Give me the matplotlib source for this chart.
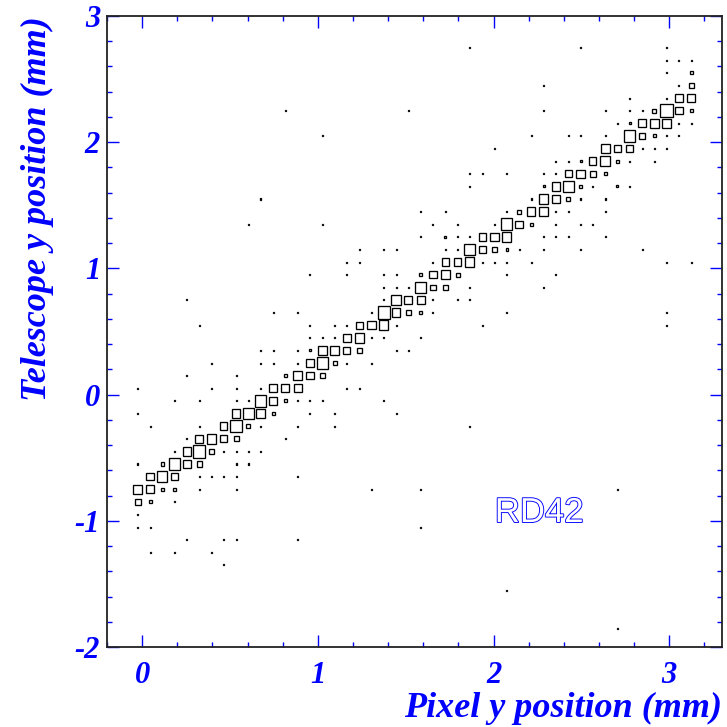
import numpy as np
import matplotlib
matplotlib.use("Agg")
import matplotlib.pyplot as plt
from matplotlib.patches import Rectangle
from matplotlib.ticker import MultipleLocator, FuncFormatter
import matplotlib.patheffects as pe

plt.rcParams['axes.unicode_minus'] = False

# histogram binning (mm)
x_lo, x_hi, nx = -0.2, 3.3, 50
y_lo, y_hi, ny = -2.0, 3.0, 50

# cell contents, one entry per telescope-y row
y_rows = [-1.85, -1.55, -1.35, -1.25, -1.15, -1.05, -0.95, -0.85, -0.75, -0.65,
          -0.55, -0.45, -0.35, -0.25, -0.15, -0.05, 0.05, 0.15, 0.25, 0.35,
          0.45, 0.55, 0.65, 0.75, 0.85, 0.95, 1.05, 1.15, 1.25, 1.35,
          1.45, 1.55, 1.65, 1.75, 1.85, 1.95, 2.05, 2.15, 2.25, 2.35,
          2.45, 2.55, 2.65, 2.75]

x_rows = [
    [2.705],
    [2.075],
    [0.465],
    [0.045, 0.185, 0.395],
    [0.255, 0.465, 0.535, 0.885],
    [-0.025, 0.045, 1.585],
    [-0.025],
    [-0.025, 0.045, 0.185],
    [-0.025, 0.045, 0.115, 0.185, 0.325, 0.535, 1.305, 1.585, 2.705],
    [0.045, 0.115, 0.185, 0.325, 0.395, 0.465, 0.535, 0.885],
    [-0.025, 0.115, 0.185, 0.255, 0.325, 0.535, 0.605],
    [0.185, 0.255, 0.325, 0.395, 0.465, 0.535, 0.605, 0.675],
    [0.255, 0.325, 0.395, 0.465, 0.535, 0.815],
    [0.045, 0.325, 0.465, 0.535, 0.605, 0.675, 0.885, 1.095, 1.865],
    [-0.025, 0.535, 0.605, 0.675, 0.745, 0.955, 1.095, 1.445],
    [0.185, 0.325, 0.535, 0.605, 0.675, 0.745, 0.815, 0.885, 0.955, 1.025, 1.375],
    [-0.025, 0.395, 0.535, 0.675, 0.745, 0.815, 0.885, 1.165, 1.235],
    [0.255, 0.535, 0.815, 0.885, 0.955, 1.025],
    [0.395, 0.675, 0.745, 0.885, 0.955, 1.025, 1.095, 1.165, 1.305],
    [0.675, 0.745, 0.885, 0.955, 1.025, 1.095, 1.165, 1.235, 1.445, 1.515],
    [0.955, 1.025, 1.095, 1.165, 1.235, 1.305, 1.375, 1.585],
    [0.325, 0.955, 1.095, 1.165, 1.235, 1.305, 1.375, 1.445, 1.935, 2.985],
    [0.745, 0.885, 1.305, 1.375, 1.445, 1.515, 1.585, 1.655, 2.075, 2.985],
    [0.255, 1.375, 1.445, 1.515, 1.585, 1.655, 1.795, 1.865],
    [1.375, 1.445, 1.515, 1.585, 1.655, 1.725, 1.865, 2.285],
    [0.955, 1.165, 1.375, 1.445, 1.585, 1.655, 1.725, 1.795, 2.075, 2.355],
    [1.165, 1.235, 1.655, 1.725, 1.795, 1.865, 1.935, 2.005, 2.075, 2.215, 2.985, 3.125],
    [1.235, 1.375, 1.445, 1.725, 1.795, 1.865, 1.935, 2.005, 2.075, 2.145, 2.285, 2.495, 2.845],
    [1.585, 1.725, 1.795, 1.865, 1.935, 2.005, 2.075, 2.285, 2.355, 2.425, 2.635],
    [0.605, 1.025, 1.655, 1.795, 2.005, 2.075, 2.145, 2.215, 2.355, 2.495, 2.565],
    [1.585, 1.725, 2.075, 2.145, 2.215, 2.285, 2.355, 2.425, 2.635],
    [0.675, 2.215, 2.285, 2.355, 2.425, 2.495, 2.635],
    [1.865, 2.285, 2.355, 2.425, 2.495, 2.565, 2.705, 2.775],
    [1.865, 1.935, 2.075, 2.285, 2.355, 2.425, 2.495, 2.565, 2.635],
    [2.355, 2.425, 2.495, 2.565, 2.635, 2.705, 2.775, 2.915],
    [2.005, 2.635, 2.705, 2.775, 2.845, 2.915, 2.985],
    [1.025, 2.215, 2.425, 2.495, 2.635, 2.775, 2.845, 2.915, 2.985, 3.055],
    [2.705, 2.775, 2.845, 2.915, 2.985, 3.055, 3.125],
    [0.815, 1.515, 2.285, 2.635, 2.775, 2.845, 2.915, 2.985, 3.055, 3.125],
    [2.775, 2.985, 3.055, 3.125],
    [2.285, 3.055, 3.125],
    [2.985, 3.125],
    [2.985, 3.055, 3.125],
    [1.865, 2.495, 2.985],
]

n_rows = [
    [1],
    [1],
    [1],
    [1, 1, 1],
    [1, 1, 1, 1],
    [1, 1, 1],
    [1],
    [6, 3, 1],
    [9, 8, 3, 3, 1, 1, 1, 1, 1],
    [7, 10, 7, 1, 1, 1, 1, 1],
    [1, 3, 11, 7, 5, 1, 1],
    [1, 8, 12, 5, 1, 1, 1, 1],
    [1, 8, 9, 7, 5, 1],
    [1, 1, 7, 12, 4, 1, 1, 1, 1],
    [1, 8, 10, 9, 3, 1, 1, 1],
    [1, 1, 1, 1, 11, 8, 3, 1, 1, 1, 1],
    [1, 1, 1, 1, 8, 8, 8, 1, 1],
    [1, 1, 3, 9, 7, 5],
    [1, 1, 1, 1, 7, 11, 4, 1, 1],
    [1, 1, 1, 2, 9, 8, 7, 5, 1, 1],
    [1, 1, 1, 8, 9, 1, 1, 1],
    [1, 1, 1, 1, 7, 8, 9, 1, 1, 1],
    [1, 1, 1, 12, 8, 5, 3, 1, 1, 1],
    [1, 1, 9, 8, 8, 1, 1, 1],
    [1, 1, 1, 11, 5, 5, 1, 1],
    [1, 1, 1, 1, 3, 7, 9, 4, 1, 1],
    [1, 1, 1, 7, 7, 9, 1, 1, 1, 1, 1, 1],
    [1, 1, 1, 1, 1, 11, 7, 4, 2, 1, 1, 1, 1],
    [1, 2, 1, 1, 7, 8, 9, 1, 1, 1, 1],
    [1, 1, 1, 1, 1, 11, 7, 3, 1, 1, 1],
    [1, 1, 1, 4, 8, 9, 1, 1, 1],
    [1, 1, 9, 7, 4, 1, 1],
    [1, 2, 8, 11, 3, 1, 2, 1],
    [1, 1, 1, 1, 1, 7, 8, 6, 3],
    [1, 1, 2, 7, 10, 3, 1, 1],
    [1, 9, 6, 7, 1, 1, 1],
    [1, 1, 1, 1, 1, 11, 5, 3, 1, 1],
    [1, 2, 8, 9, 9, 1, 1],
    [1, 1, 1, 1, 1, 1, 4, 12, 7, 3],
    [1, 1, 7, 8],
    [1, 1, 5],
    [1, 3],
    [1, 1, 1],
    [1, 1, 1],
]

xs = np.concatenate([np.array(r, float) for r in x_rows])
ys = np.concatenate([np.full(len(r), y) for y, r in zip(y_rows, x_rows)])
ns = np.concatenate([np.array(r, float) for r in n_rows])

x_edges = np.linspace(x_lo, x_hi, nx + 1)
y_edges = np.linspace(y_lo, y_hi, ny + 1)
H, _, _ = np.histogram2d(xs, ys, bins=[x_edges, y_edges], weights=ns)

blue = '#0000ff'
tfont = dict(family='Liberation Serif', weight='bold', style='italic', color=blue)

fig = plt.figure(figsize=(7.27, 7.27), dpi=100)
ax = fig.add_axes([107 / 727, 1 - 647 / 727, 615 / 727, 631 / 727])
ax.set_xlim(x_lo, x_hi)
ax.set_ylim(y_lo, y_hi)

# box option: side of each box scales with the cell content
dx = x_edges[1] - x_edges[0]
dy = y_edges[1] - y_edges[0]
hmax = H.max()
for i, j in zip(*np.nonzero(H)):
    f = H[i, j] / hmax
    xc = 0.5 * (x_edges[i] + x_edges[i + 1])
    yc = 0.5 * (y_edges[j] + y_edges[j + 1])
    ax.add_patch(Rectangle((xc - 0.5 * f * dx, yc - 0.5 * f * dy), f * dx, f * dy,
                           fill=False, edgecolor='black', linewidth=0.95))

# ROOT style axes
for s in ax.spines.values():
    s.set_linewidth(1.3)
    s.set_color('#222222')
ax.xaxis.set_major_locator(MultipleLocator(1))
ax.xaxis.set_minor_locator(MultipleLocator(0.2))
ax.yaxis.set_major_locator(MultipleLocator(1))
ax.yaxis.set_minor_locator(MultipleLocator(0.2))
ax.tick_params(which='both', direction='in', top=True, right=True, color=blue, width=1)
ax.tick_params(which='major', length=8.5)
ax.tick_params(which='minor', length=3.7)
ax.tick_params(axis='x', pad=10)
ax.tick_params(axis='y', pad=5)
fmt = FuncFormatter(lambda v, p: '%d' % round(v))
ax.xaxis.set_major_formatter(fmt)
ax.yaxis.set_major_formatter(fmt)
for lab in ax.get_xticklabels() + ax.get_yticklabels():
    lab.set_fontfamily('Liberation Serif')
    lab.set_fontweight('bold')
    lab.set_fontstyle('italic')
    lab.set_fontsize(22)
    lab.set_color(blue)

ax.set_xlabel('Pixel y position (mm)', loc='right', fontsize=26, **tfont)
ax.xaxis.set_label_coords(1.0, -0.072)
ax.set_ylabel('Telescope y position (mm)', loc='top', fontsize=26, **tfont)
ax.yaxis.set_label_coords(-0.086, 1.0)

ax.text(2.26, -1.01, 'RD42', fontsize=25, family='Liberation Sans', color='white',
        ha='center', va='baseline',
        path_effects=[pe.withStroke(linewidth=1.3, foreground=blue)])

fig.savefig('out.png', dpi=100)
